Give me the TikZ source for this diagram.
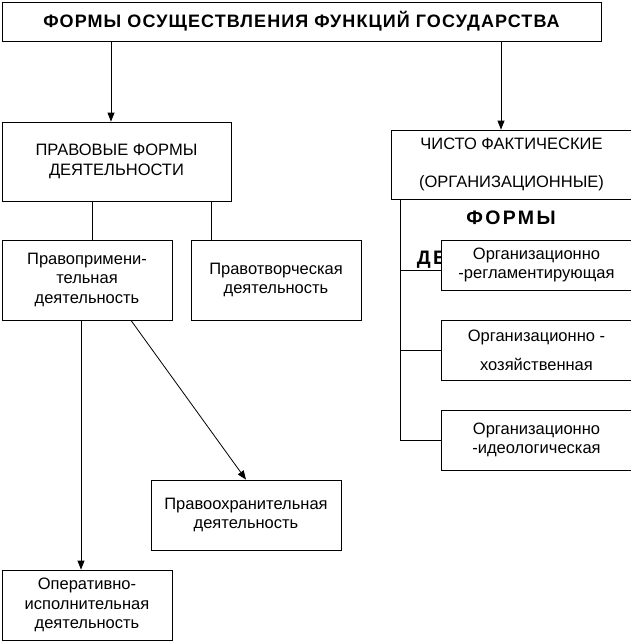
\documentclass[tikz,border=0pt]{standalone}
\usepackage{fontspec}
\setmainfont{Liberation Sans}
\newfontfamily\widefont[LetterSpace=6]{Liberation Sans}
\newfontfamily\widerfont[LetterSpace=12]{Liberation Sans}
\usetikzlibrary{arrows.meta}
\begin{document}
\begin{tikzpicture}[x=1pt, y=-1pt, line width=0.8pt,
  box/.style={draw, fill=white, inner sep=0pt, align=center, font=\fontsize{16.5}{19.5}\selectfont},
  arr/.style={-{Triangle[length=9pt, width=7pt]}}]
\useasboundingbox (0,0) rectangle (631,641);
% --- top ---
\node[box, minimum width=599pt, minimum height=39pt, font=\widefont\bfseries\fontsize{18}{18}\selectfont] (forms) at (301.5,21.5) {\raisebox{3pt}{ФОРМЫ ОСУЩЕСТВЛЕНИЯ ФУНКЦИЙ ГОСУДАРСТВА}};
% --- left branch ---
\node[box, minimum width=229pt, minimum height=79pt] (legal) at (116.5,161.5) {ПРАВОВЫЕ ФОРМЫ\\ДЕЯТЕЛЬНОСТИ};
\node[box, minimum width=170pt, minimum height=80pt] (apply) at (87,280) {\raisebox{3pt}{\begin{tabular}{@{}c@{}}Правопримени-\\тельная\\деятельность\end{tabular}}};
\node[box, minimum width=170pt, minimum height=80pt] (create) at (276,280) {Правотворческая\\деятельность};
\node[box, minimum width=190pt, minimum height=70pt] (guard) at (246,515) {Правоохранительная\\деятельность};
\node[box, minimum width=170pt, minimum height=70pt] (exec) at (87,605) {Оперативно-\\исполнительная\\деятельность};
% --- right branch ---
\node[box, minimum width=241pt, minimum height=69pt, font=\fontsize{16.5}{38}\selectfont] (fact) at (511.5,164.5) {ЧИСТО ФАКТИЧЕСКИЕ\\(ОРГАНИЗАЦИОННЫЕ)};
\node[align=center, inner sep=0pt, font=\widerfont\bfseries\fontsize{19.5}{40}\selectfont] (factforms) at (511,239.5) {ФОРМЫ\\ДЕЯТЕЛЬНОСТИ};
\node[box, minimum width=191pt, minimum height=50pt] (reg) at (536.5,265) {Организационно\\-регламентирующая};
\node[box, minimum width=191pt, minimum height=60pt, font=\fontsize{16.5}{29}\selectfont] (econ) at (536.5,350) {Организационно -\\хозяйственная};
\node[box, minimum width=191pt, minimum height=60pt] (ideo) at (536.5,440) {\raisebox{3pt}{\begin{tabular}{@{}c@{}}Организационно\\-идеологическая\end{tabular}}};
% --- connectors ---
\coordinate (legaltop) at ([xshift=-5.5]legal.north);
\coordinate (facttop) at ([xshift=-10.5]fact.north);
\draw[arr] (forms.south -| legaltop) -- (legaltop);
\draw[arr] (forms.south -| facttop) -- (facttop);
\coordinate (applytop) at ([xshift=5]apply.north);
\coordinate (createtop) at ([xshift=-65]create.north);
\draw (legal.south -| applytop) -- (applytop);
\draw (legal.south -| createtop) -- (createtop);
\coordinate (applybot) at ([xshift=-6]apply.south);
\draw[arr] (applybot) -- (applybot |- exec.north);
\draw[arr] ([xshift=44]apply.south) -- (guard.north);
\coordinate (trunk) at ([xshift=10]fact.south west);
\draw (trunk) |- (ideo.west);
\draw (trunk |- reg.west) ++(0,5) -- ([yshift=-5pt]reg.west);
\draw (trunk |- econ.west) -- (econ.west);
\end{tikzpicture}
\end{document}
